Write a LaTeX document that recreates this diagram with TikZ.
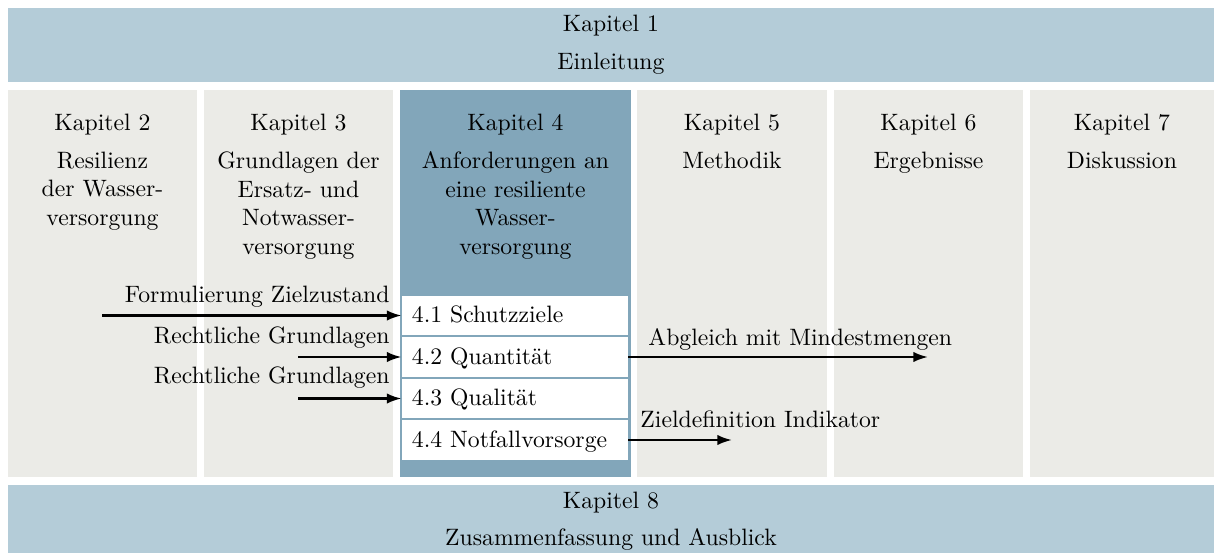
\documentclass[tikz,border=0pt]{standalone}
\usetikzlibrary{arrows.meta}
\definecolor{bannerblue}{HTML}{B4CCD8}
\definecolor{colgray}{HTML}{EBEBE7}
\definecolor{focusblue}{HTML}{82A6BA}
\begin{document}
\begin{tikzpicture}[x=0.42194pt,y=-0.42194pt,
  lbl/.style={inner sep=0pt, anchor=base},
  chaptitle/.style={inner sep=0pt, align=center, anchor=north},
  subbox/.style={fill=white, inner xsep=4.2pt, inner ysep=0pt, text width=86.96pt,
    align=left, minimum height=16.46pt, text height=7.5pt, text depth=1.5pt},
  flow/.style={-{Latex[length=6.2pt,width=4.4pt]}, line width=0.95pt},
]
\useasboundingbox (0,0) rectangle (1214,553);
\fill[white] (0,0) rectangle (1214,553);

% Chapter 1 banner
\fill[bannerblue] (8,8) rectangle (1214,82);
\node[lbl] (k1) at (611,31) {Kapitel 1};
\node[lbl] (t1) at (611,69) {Einleitung};

% Chapter columns
\fill[colgray]   (8,90)    rectangle (197,477);
\fill[colgray]   (204,90)  rectangle (393,477);
\fill[focusblue] (400,90)  rectangle (631,477);
\fill[colgray]   (637,90)  rectangle (827,477);
\fill[colgray]   (834,90)  rectangle (1023,477);
\fill[colgray]   (1030,90) rectangle (1214,477);

\node[lbl] (k2) at (102.5,130) {Kapitel 2};
\node[chaptitle] (t2) at (102.5,151.5) {Resilienz\\der Wasser-\\versorgung};
\node[lbl] (k3) at (298.5,130) {Kapitel 3};
\node[chaptitle] (t3) at (298.5,151.5) {Grundlagen der\\Ersatz- und\\Notwasser-\\versorgung};
\node[lbl] (k4) at (515.5,130) {Kapitel 4};
\node[chaptitle] (t4) at (515.5,151.5) {Anforderungen an\\eine resiliente\\Wasser-\\versorgung};
\node[lbl] (k5) at (732,130) {Kapitel 5};
\node[chaptitle] (t5) at (732,151.5) {Methodik};
\node[lbl] (k6) at (928.5,130) {Kapitel 6};
\node[chaptitle] (t6) at (928.5,151.5) {Ergebnisse};
\node[lbl] (k7) at (1122,130) {Kapitel 7};
\node[chaptitle] (t7) at (1122,151.5) {Diskussion};

% Sections of chapter 4
\node[subbox] (s1) at (515,315.5) {4.1 Schutzziele};
\node[subbox] (s2) at (515,357)   {4.2 Quantit\"at};
\node[subbox] (s3) at (515,398.5) {4.3 Qualit\"at};
\node[subbox] (s4) at (515,440)   {4.4 Notfallvorsorge};

% Inputs and outputs
\coordinate (in1) at (102,315.5);
\coordinate (in2) at (298,357);
\coordinate (in3) at (298,398.5);
\coordinate (out2) at (928,357);
\coordinate (out4) at (732,440);
\draw[flow] (in1) -- (s1.west);
\draw[flow] (in2) -- (s2.west);
\draw[flow] (in3) -- (s3.west);
\draw[flow] (s2.east) -- (out2);
\draw[flow] (s4.east) -- (out4);
\node[lbl, anchor=base east] (l1) at (390,302) {Formulierung Zielzustand};
\node[lbl, anchor=base east] (l2) at (390,343) {Rechtliche Grundlagen};
\node[lbl, anchor=base east] (l3) at (390,383) {Rechtliche Grundlagen};
\node[lbl, anchor=base west] (l4) at (648,345) {Abgleich mit Mindestmengen};
\node[lbl, anchor=base west] (l5) at (640,427) {Zieldefinition Indikator};

% Chapter 8 banner
\fill[bannerblue] (8,485) rectangle (1214,553);
\node[lbl] (k8) at (611,508) {Kapitel 8};
\node[lbl] (t8) at (611,545) {Zusammenfassung und Ausblick};
\end{tikzpicture}
\end{document}
